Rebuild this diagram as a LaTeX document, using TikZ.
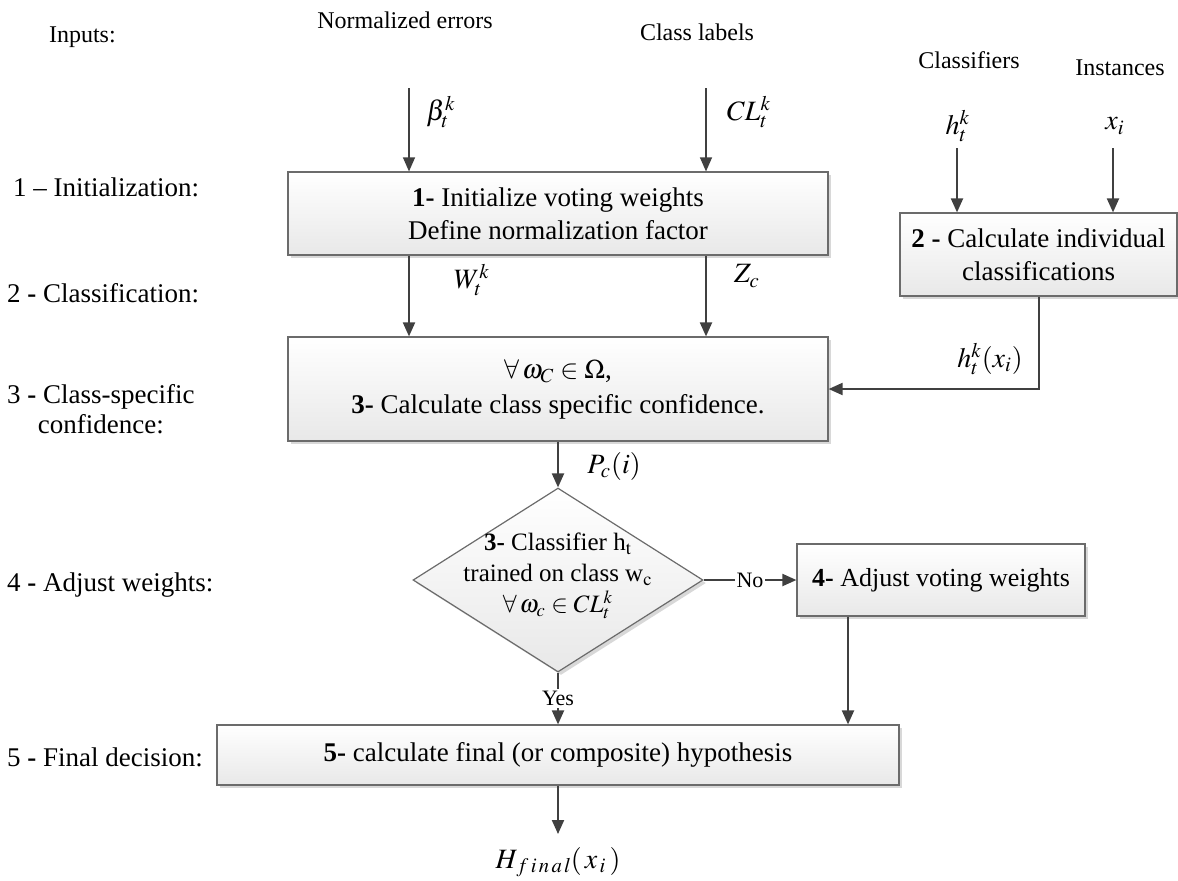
\documentclass[tikz,border=0pt]{standalone}
\usepackage{mathptmx}
\usepackage{fontspec}
\setmainfont{Liberation Serif}
\usetikzlibrary{arrows.meta,shapes.geometric,shadows}

\begin{document}
\begin{tikzpicture}[x=0.5pt,y=-0.5pt,
  proc/.style={draw=black!58, line width=0.6pt, top color=white, bottom color=black!9,
    drop shadow={shadow xshift=1.5pt,shadow yshift=-1.5pt,fill=black!30,opacity=0.5},
    align=center, inner sep=0pt, font=\fontsize{13.5}{16.5}\selectfont},
  decision/.style={diamond, draw=black!58, line width=0.6pt, top color=white, bottom color=black!9,
    drop shadow={shadow xshift=1.5pt,shadow yshift=-1.5pt,fill=black!30,opacity=0.5},
    inner sep=0pt, minimum width=145pt, minimum height=92pt},
  flow/.style={draw=black!75, line width=1pt, -{Triangle[length=7pt,width=6pt]}},
  thin flow/.style={flow, line width=0.6pt},
  side/.style={font=\fontsize{13.5}{15}\selectfont, anchor=west, align=center},
  head/.style={font=\fontsize{12}{14}\selectfont},
  var/.style={font=\fontsize{14}{16}\selectfont},
  tag/.style={font=\fontsize{11}{13}\selectfont, fill=white, inner sep=1pt}]
\useasboundingbox (0,0) rectangle (1178,880);

% inputs
\node[head, anchor=west] (inputs) at (42,37) {Inputs:};
\node[head] (errors) at (405,20) {Normalized errors};
\node[head] (labels) at (697,32) {Class labels};
\node[head] (classifiers) at (969,60) {Classifiers};
\node[head] (instances) at (1120,68) {Instances};

% steps on the left
\node[side] (s1) at (6,187) {1 -- Initialization:};
\node[side] (s2) at (0,293) {2 \textbf{-} Classification:};
\node[side] (s3) at (0,409) {3 \textbf{-} Class-specific\\confidence:};
\node[side] (s4) at (0,585) {4 \textbf{-} Adjust weights:};
\node[side] (s5) at (0,757) {5 \textbf{-} Final decision:};

% boxes
\node[proc, minimum width=270pt, minimum height=41.5pt] (init) at (558,213.5)
  {\textbf{1-} Initialize voting weights\\Define normalization factor};
\node[proc, minimum width=138.5pt, minimum height=41.5pt] (indiv) at (1038.5,254.5)
  {\textbf{2 -} Calculate individual\\classifications};
\node[proc, minimum width=270pt, minimum height=52pt] (conf) at (558,389)
  {$\forall\,\omega_C \in \Omega$,\\[1pt]\textbf{3-} Calculate class specific confidence.};
\node[decision] (dec) at (558,580) {};
\node[align=center, font=\fontsize{12.5}{15.5}\selectfont] (dec text) at ([yshift=2pt]dec.center)
  {\textbf{3-} Classifier h$_{\mathrm{t}}$\\trained on class w$_{\mathrm{c}}$\\$\forall\,\omega_c \in CL_t^k$};
\node[proc, minimum width=144pt, minimum height=36pt, font=\fontsize{13}{16}\selectfont] (adjust) at (941,580)
  {\textbf{4-} Adjust voting weights};
\node[proc, minimum width=341pt, minimum height=30pt] (final) at (558,755)
  {\textbf{5-} calculate final (or composite) hypothesis};

% free ends of the input arrows
\coordinate (beta in) at (409,88);
\coordinate (cl in) at (706,88);
\coordinate (h in) at (957,148);
\coordinate (x in) at (1113,148);

% inputs into the boxes
\draw[thin flow] (beta in) -- (init.north -| beta in);
\node[var] (beta) at (441,112) {$\beta_t^k$};
\draw[thin flow] (cl in) -- (init.north -| cl in);
\node[var] (cl) at (749,112) {$CL_t^k$};
\draw[flow] (h in) -- (indiv.north -| h in);
\node[var] (h) at (958,126) {$h_t^k$};
\draw[flow] (x in) -- (indiv.north -| x in);
\node[var] (x) at (1115,126) {$x_i$};

% between the steps
\draw[flow] (init.south -| beta in) -- (conf.north -| beta in);
\node[var] (w) at (472,280) {$W_t^k$};
\draw[flow] (init.south -| cl in) -- (conf.north -| cl in);
\node[var] (z) at (747,276) {$Z_c$};
\draw[flow] (indiv.south) |- (conf.east);
\node[var] (hx) at (990,359) {$h_t^k(x_i)$};
\draw[flow] (conf.south) -- (dec.north);
\node[var] (p) at (614,466) {$P_c(i)$};
\draw[flow] (dec.east) -- node[tag] {No} (adjust.west);
\draw[flow] (dec.south) -- node[tag] {Yes} (final.north);
\draw[flow] ([xshift=-46.5pt]adjust.south) -- ([xshift=-46.5pt]adjust.south |- final.north);
\node[var] (hfinal) at (558,862) {$H_{\;\mathit{f\,i\,n\,a\,l}}(\,x_{\,i}\,)$};
\draw[flow] (final.south) -- ([yshift=3pt]hfinal.north);
\end{tikzpicture}
\end{document}
